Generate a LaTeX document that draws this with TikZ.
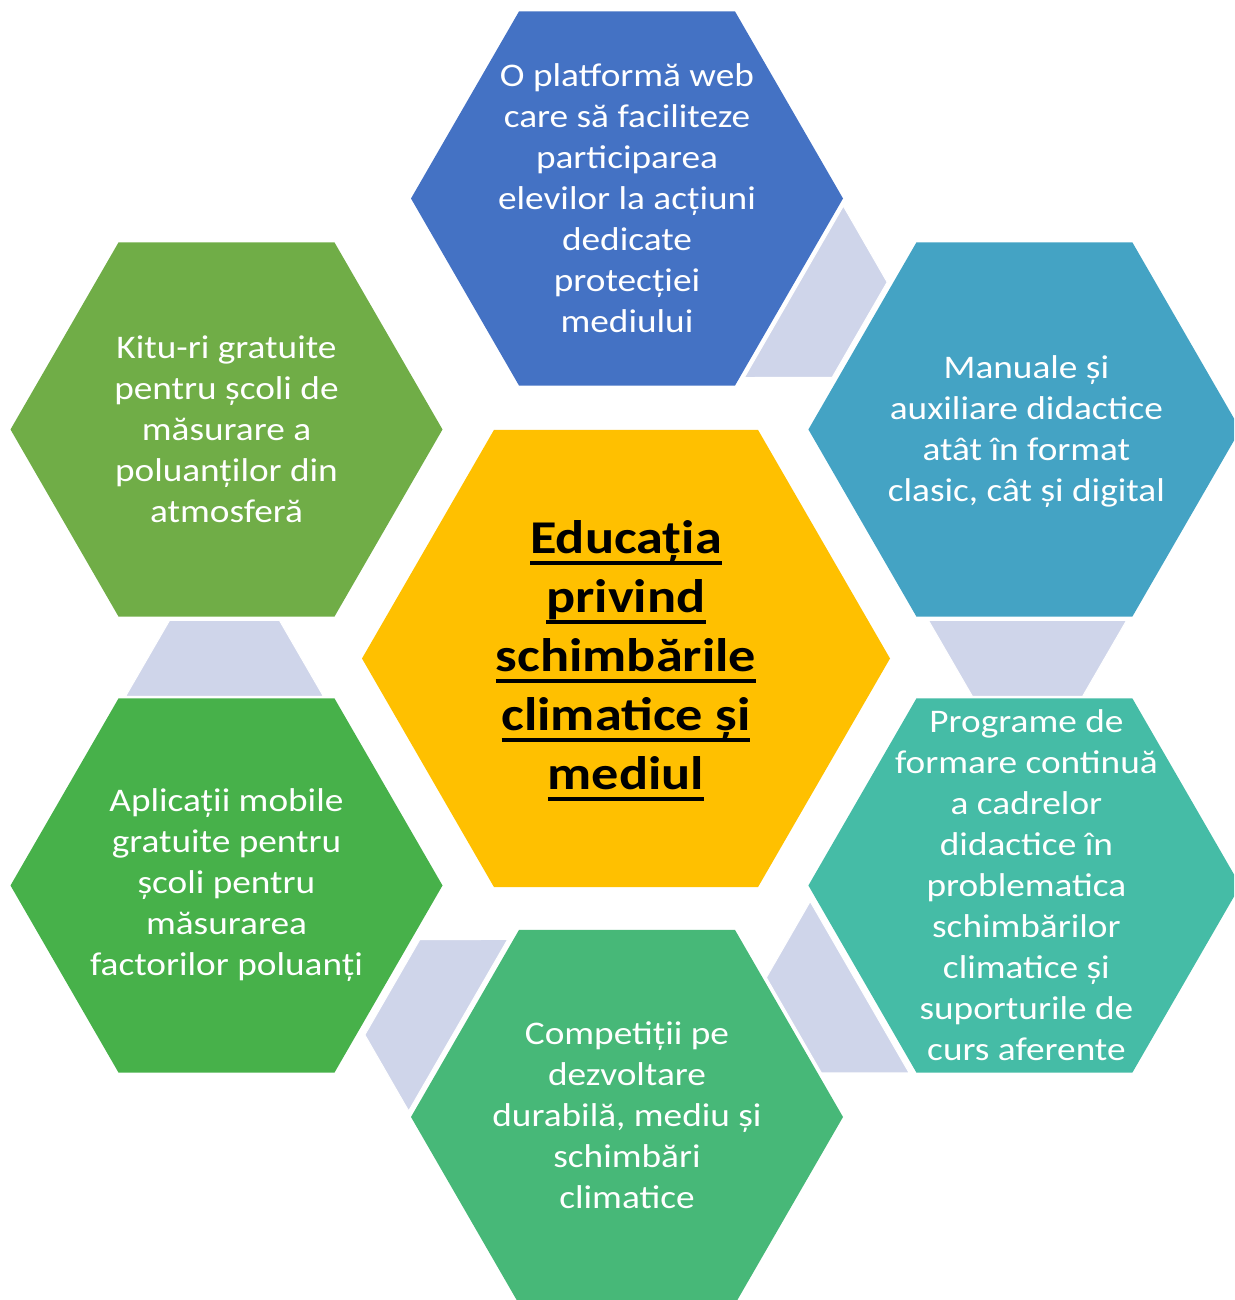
\documentclass[tikz,border=0pt]{standalone}
\usepackage{fontspec}
\setmainfont{Carlito}
\newfontfamily\outerfont{Carlito}[FakeStretch=1.13]
\newfontfamily\centerfont{Carlito}[FakeStretch=1.155]
\definecolor{cTopC}{HTML}{4472C4}
\definecolor{cTRC}{HTML}{44A3C4}
\definecolor{cBRC}{HTML}{45BCA6}
\definecolor{cBotC}{HTML}{47B878}
\definecolor{cBLC}{HTML}{47B14A}
\definecolor{cTLC}{HTML}{70AD47}
\definecolor{cCenC}{HTML}{FFC000}
\definecolor{cConnC}{HTML}{CFD5EA}
\newcommand\myul[1]{\setbox0\hbox{#1}\rlap{\rule[-0.25em]{\wd0}{0.08em}}\box0}
\newcommand\hexpath[3]{\fill[#3,shift={(#1)}] (0:#2) -- (60:#2) -- (120:#2) -- (180:#2) -- (240:#2) -- (300:#2) -- cycle;}
\tikzset{
  outertext/.style={text=white, align=center, inner sep=0pt, font={\outerfont\fontsize{33}{41}\selectfont}},
  centertext/.style={text=black, align=center, inner sep=0pt, font={\centerfont\bfseries\fontsize{47}{59}\selectfont}},
  connshape/.style={fill=cConnC, draw=white, line width=1pt}
}
\begin{document}
\begin{tikzpicture}[x=1pt,y=1pt]
\useasboundingbox (0,0) rectangle (1234,1300);
\clip (0,0) rectangle (1234,1300);
\coordinate (C) at (626,641.5);
\coordinate (pTop) at (627,1101.5);
\coordinate (pTR) at (1024.4,870.5);
\coordinate (pBR) at (1024.4,414.5);
\coordinate (pBot) at (627,183);
\coordinate (pBL) at (226.5,414.5);
\coordinate (pTL) at (226.5,870.5);
% connectors
\foreach \ang in {60,0,-60,-120,180}{
  \filldraw[connshape, shift={(C)}, rotate=\ang] (302.5,38) -- (500.5,38) -- (456.5,-38) -- (346.5,-38) -- cycle;
}
% hexagons
\hexpath{pTop}{216}{cTopC}
\hexpath{pTR}{216}{cTRC}
\hexpath{pBR}{216}{cBRC}
\hexpath{pBot}{216}{cBotC}
\hexpath{pBL}{216}{cBLC}
\hexpath{pTL}{216}{cTLC}
\hexpath{C}{264}{cCenC}
% texts
\node[outertext] (tTop) at (pTop) {O platformă web\\care să faciliteze\\participarea\\elevilor la acțiuni\\dedicate\\protecției\\mediului};
\node[outertext] (tTR) at ([xshift=2pt,yshift=-2pt]pTR) {Manuale și\\auxiliare didactice\\atât în format\\clasic, cât și digital};
\node[outertext] (tBR) at ([xshift=2pt]pBR) {Programe de\\formare continuă\\a cadrelor\\didactice în\\problematica\\schimbărilor\\climatice și\\suporturile de\\curs aferente};
\node[outertext] (tBot) at ([yshift=2pt]pBot) {Competiții pe\\dezvoltare\\durabilă, mediu și\\schimbări\\climatice};
\node[outertext] (tBL) at (pBL) {Aplicații mobile\\gratuite pentru\\școli pentru\\măsurarea\\factorilor poluanți};
\node[outertext] (tTL) at (pTL) {Kitu-ri gratuite\\pentru școli de\\măsurare a\\poluanților din\\atmosferă};
\node[centertext] (tC) at ([yshift=-2pt]C) {\myul{Educația}\\\myul{privind}\\\myul{schimbările}\\\myul{climatice și}\\\myul{mediul}};
\end{tikzpicture}
\end{document}
